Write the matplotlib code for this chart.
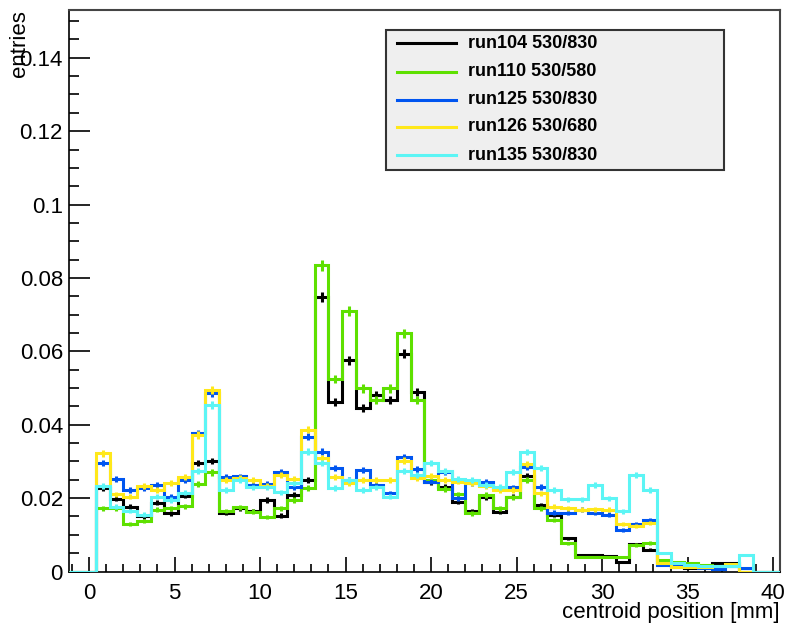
import numpy as np
import matplotlib
matplotlib.use("Agg")
import matplotlib.pyplot as plt
from matplotlib.ticker import MultipleLocator, FuncFormatter
from matplotlib.lines import Line2D
from matplotlib.patches import Rectangle

plt.rcParams['font.family'] = ['Liberation Sans', 'DejaVu Sans']

# histogram binning: 52 bins of 0.8 mm
x_low, x_high, n_bins = -1.2, 40.4, 52
first_filled_bin = 2

run_labels = ["run104 530/830", "run110 530/580", "run125 530/830",
              "run126 530/680", "run135 530/830"]
run_colors = ["#000000", "#5ee000", "#0055f0", "#ffe81a", "#5cf5f5"]
run_entries = [38000, 38000, 40000, 40000, 40000]

# normalised entries per bin, starting at bin 2 (0.4 mm)
run104 = [0.0228, 0.0198, 0.0177, 0.0150, 0.0188, 0.0159, 0.0207, 0.0295,
          0.0301, 0.0160, 0.0172, 0.0165, 0.0195, 0.0152, 0.0208, 0.0249,
          0.0749, 0.0463, 0.0576, 0.0445, 0.0481, 0.0467, 0.0594, 0.0490,
          0.0245, 0.0231, 0.0190, 0.0165, 0.0203, 0.0163, 0.0204, 0.0260,
          0.0181, 0.0154, 0.0090, 0.0045, 0.0044, 0.0042, 0.0027, 0.0074,
          0.0059, 0.0027, 0.0013, 0.0010, 0.0012, 0.0024, 0.0022, 0.0]
run110 = [0.0172, 0.0172, 0.0129, 0.0138, 0.0168, 0.0172, 0.0178, 0.0238,
          0.0270, 0.0165, 0.0175, 0.0163, 0.0149, 0.0172, 0.0195, 0.0227,
          0.0835, 0.0525, 0.0710, 0.0499, 0.0467, 0.0499, 0.0649, 0.0467,
          0.0249, 0.0225, 0.0210, 0.0159, 0.0208, 0.0172, 0.0202, 0.0249,
          0.0172, 0.0140, 0.0077, 0.0040, 0.0040, 0.0040, 0.0040, 0.0072,
          0.0078, 0.0031, 0.0027, 0.0022, 0.0017, 0.0014, 0.0014, 0.0]
run125 = [0.0295, 0.0252, 0.0222, 0.0228, 0.0235, 0.0204, 0.0249, 0.0377,
          0.0487, 0.0257, 0.0259, 0.0236, 0.0238, 0.0272, 0.0231, 0.0367,
          0.0327, 0.0281, 0.0249, 0.0277, 0.0236, 0.0213, 0.0311, 0.0278,
          0.0245, 0.0272, 0.0200, 0.0242, 0.0245, 0.0227, 0.0229, 0.0286,
          0.0230, 0.0160, 0.0160, 0.0168, 0.0160, 0.0155, 0.0113, 0.0130,
          0.0140, 0.0018, 0.0014, 0.0014, 0.0009, 0.0008, 0.0014, 0.0010]
run126 = [0.0322, 0.0210, 0.0204, 0.0233, 0.0222, 0.0242, 0.0257, 0.0372,
          0.0495, 0.0250, 0.0255, 0.0249, 0.0233, 0.0263, 0.0251, 0.0386,
          0.0308, 0.0258, 0.0240, 0.0249, 0.0249, 0.0249, 0.0302, 0.0255,
          0.0260, 0.0249, 0.0245, 0.0240, 0.0232, 0.0222, 0.0222, 0.0292,
          0.0213, 0.0177, 0.0172, 0.0168, 0.0170, 0.0168, 0.0130, 0.0125,
          0.0133, 0.0022, 0.0013, 0.0012, 0.0011, 0.0014, 0.0020, 0.0]
run135 = [0.0233, 0.0177, 0.0165, 0.0155, 0.0204, 0.0195, 0.0215, 0.0274,
          0.0454, 0.0222, 0.0249, 0.0229, 0.0229, 0.0216, 0.0240, 0.0327,
          0.0295, 0.0228, 0.0249, 0.0222, 0.0229, 0.0204, 0.0275, 0.0262,
          0.0295, 0.0275, 0.0253, 0.0250, 0.0235, 0.0231, 0.0272, 0.0326,
          0.0281, 0.0222, 0.0197, 0.0197, 0.0236, 0.0199, 0.0164, 0.0263,
          0.0222, 0.0050, 0.0022, 0.0019, 0.0016, 0.0014, 0.0014, 0.0045]

runs = [run104, run110, run125, run126, run135]

edges = np.linspace(x_low, x_high, n_bins + 1)
centers = 0.5 * (edges[:-1] + edges[1:])

W, H = 786, 628
fig = plt.figure(figsize=(W / 100, H / 100), dpi=100)
ax = fig.add_axes([68.5 / W, 1 - 571.5 / H, (780 - 68.5) / W, (571.5 - 9.7) / H])

for vals, col, n_ent in zip(runs, run_colors, run_entries):
    full = np.zeros(n_bins)
    full[first_filled_bin:first_filled_bin + len(vals)] = vals
    ax.stairs(full, edges, color=col, lw=2.2, baseline=None, zorder=3)
    # statistical error bars at the bin centres
    err = np.sqrt(full / n_ent)
    mask = full > 0
    ax.vlines(centers[mask], full[mask] - err[mask], full[mask] + err[mask],
              color=col, lw=2.2, zorder=3)

ax.set_xlim(x_low, x_high)
ax.set_ylim(0, 0.1531)

ax.xaxis.set_major_locator(MultipleLocator(5))
ax.xaxis.set_minor_locator(MultipleLocator(1))
ax.yaxis.set_major_locator(MultipleLocator(0.02))
ax.yaxis.set_minor_locator(MultipleLocator(0.005))
ax.yaxis.set_major_formatter(FuncFormatter(lambda v, p: f"{v:g}"))

ax.tick_params(axis='both', which='both', direction='in', top=False, right=False,
               width=1.2, labelsize=16)
ax.tick_params(axis='x', which='major', length=11, pad=8)
ax.tick_params(axis='x', which='minor', length=5.5)
ax.tick_params(axis='y', which='major', length=15, pad=4)
ax.tick_params(axis='y', which='minor', length=7.5)

for side in ['left', 'bottom']:
    ax.spines[side].set_linewidth(1.2)
    ax.spines[side].set_color('black')
for side in ['top', 'right']:
    ax.spines[side].set_linewidth(1.5)
    ax.spines[side].set_color('#444444')

fig.text(780 / W, 1 - 618 / H, "centroid position [mm]", ha='right', va='baseline',
         fontsize=16)
fig.text(20 / W, 1 - 10 / H, "entries", rotation=90, ha='center', va='top',
         fontsize=16)

# legend box
lx0, lx1, ly0, ly1 = 386, 724, 30, 170
fig.patches.append(Rectangle((lx0 / W, 1 - ly1 / H), (lx1 - lx0) / W, (ly1 - ly0) / H,
                             transform=fig.transFigure, facecolor='#efefef',
                             edgecolor='#333333', lw=1.5, zorder=5))
row_y = [43.3, 71.7, 100, 126.7, 155]
for label, col, yy in zip(run_labels, run_colors, row_y):
    fig.lines.append(Line2D([397 / W, 456 / W], [1 - yy / H, 1 - yy / H],
                            transform=fig.transFigure, color=col, lw=2.2, zorder=6))
    fig.text(468 / W, 1 - yy / H, label, ha='left', va='center', fontsize=13,
             fontweight='bold', zorder=6)

fig.savefig("out.png", dpi=100)
